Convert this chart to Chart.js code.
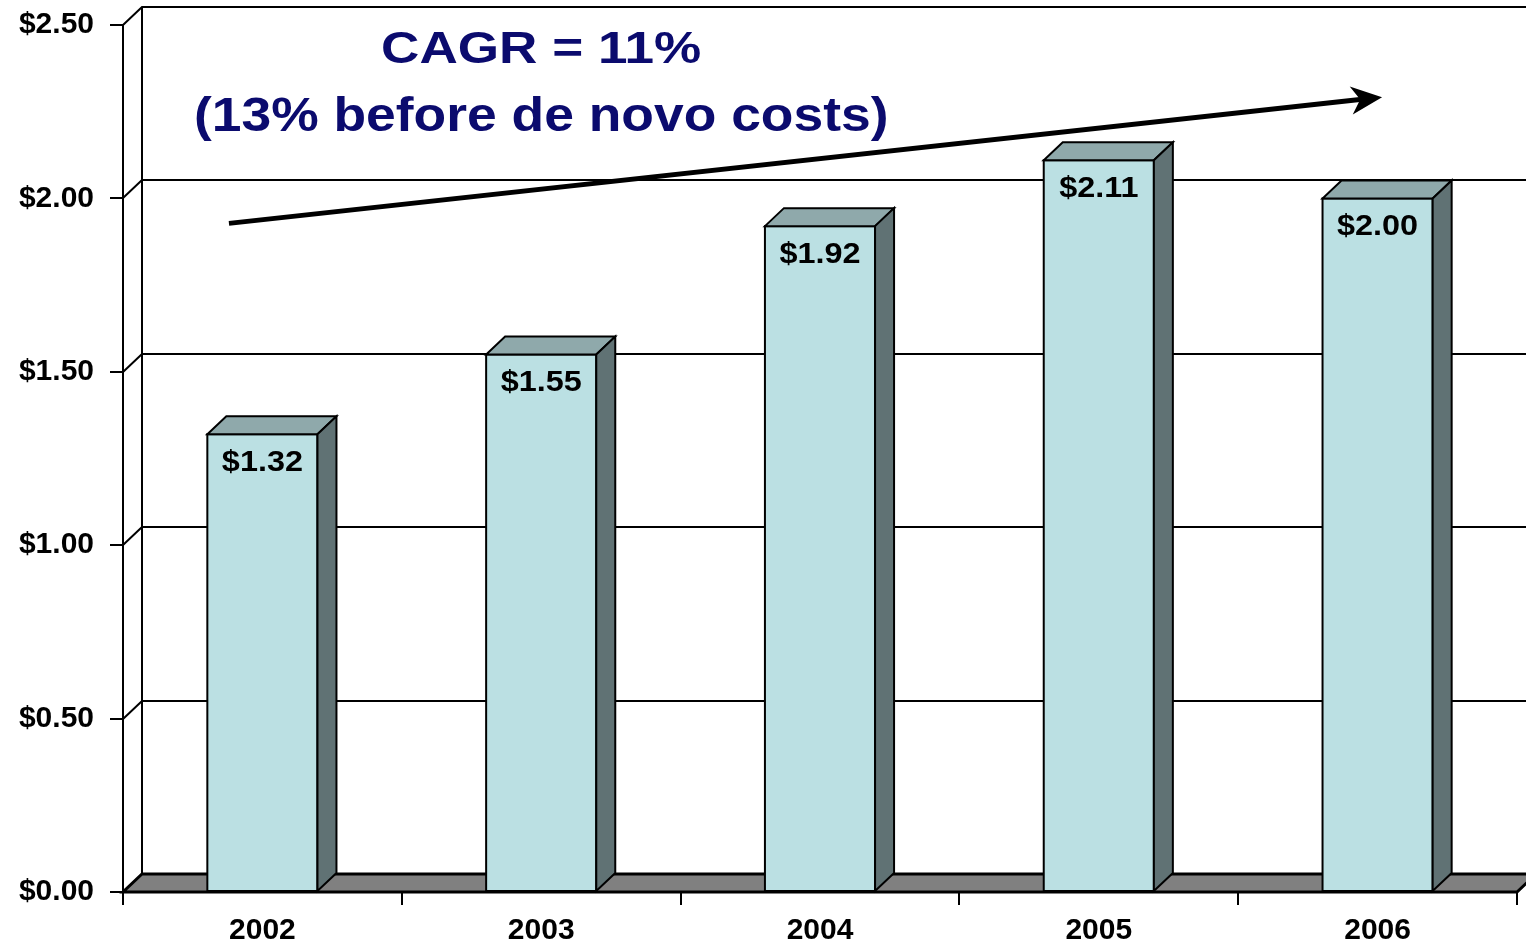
<!DOCTYPE html>
<html>
<head>
<meta charset="utf-8">
<title>EPS 2002–2006</title>
<script src="https://cdn.jsdelivr.net/npm/chart.js@4/dist/chart.umd.min.js"></script>
<style>
  html, body { margin: 0; padding: 0; background: #fff; }
  canvas { display: block; }
</style>
</head>
<body>
<canvas id="chart" width="1526" height="944"></canvas>
<script>
// Categories and values
const years = ['2002', '2003', '2004', '2005', '2006'];
const eps = [1.32, 1.55, 1.92, 2.11, 2.00];

// Value axis range
const axisMin = 0;
const axisMax = 2.5;
const axisStep = 0.5;

// Headline text and trend arrow (arrow ends given as [category index, value])
const titleLines = ['CAGR = 11%', '(13% before de novo costs)'];
const titleAnchor = [1.0, 2.390, 2.194];   // x index, baseline value of line 1, line 2
const arrowFrom = [-0.12, 1.928];
const arrowTo = [4.016, 2.292];

const FONT = "'Liberation Sans', Arial, Helvetica, sans-serif";
const DX = 19, DY = 18;            // depth offset of the 3D box
const FRONT = '#BBE0E3', TOP = '#8FA9AB', SIDE = '#607274', FLOOR = '#808080';
const NAVY = '#0B0B6E';
const TITLE_STYLE = [{ size: 45, stretch: 1.18 }, { size: 49, stretch: 1.09 }];

const depthPlugin = {
  id: 'depth3d',
  beforeDraw(chart) {
    const { ctx, chartArea: a, scales: { x, y } } = chart;
    ctx.save();
    ctx.fillStyle = '#fff';
    ctx.fillRect(0, 0, chart.width, chart.height);
    ctx.strokeStyle = '#000';
    ctx.lineWidth = 2;
    ctx.beginPath();
    // gridlines: diagonal on the side wall, then across the back wall
    y.ticks.forEach(t => {
      if (t.value === axisMin) return;
      const py = Math.round(y.getPixelForValue(t.value));
      ctx.moveTo(a.left, py);
      ctx.lineTo(a.left + DX, py - DY);
      ctx.lineTo(a.right + DX, py - DY);
    });
    // back corner of the walls
    const topY = Math.round(y.getPixelForValue(axisMax));
    ctx.moveTo(a.left + DX, topY - DY);
    ctx.lineTo(a.left + DX, a.bottom - DY);
    ctx.stroke();
    // floor
    ctx.beginPath();
    ctx.moveTo(a.left, a.bottom);
    ctx.lineTo(a.right, a.bottom);
    ctx.lineTo(a.right + DX, a.bottom - DY);
    ctx.lineTo(a.left + DX, a.bottom - DY);
    ctx.closePath();
    ctx.fillStyle = FLOOR;
    ctx.fill();
    ctx.lineWidth = 3;
    ctx.stroke();
    ctx.restore();
  },
  afterDatasetsDraw(chart) {
    const { ctx } = chart;
    const meta = chart.getDatasetMeta(0);
    ctx.save();
    ctx.strokeStyle = '#000';
    ctx.lineWidth = 2;
    ctx.lineJoin = 'miter';
    meta.data.forEach((bar, i) => {
      const { x, y, base, width } = bar.getProps(['x', 'y', 'base', 'width'], true);
      const l = x - width / 2, r = x + width / 2;
      // front outline
      ctx.strokeRect(l, y, width, base - y);
      // top face
      ctx.beginPath();
      ctx.moveTo(l, y);
      ctx.lineTo(r, y);
      ctx.lineTo(r + DX, y - DY);
      ctx.lineTo(l + DX, y - DY);
      ctx.closePath();
      ctx.fillStyle = TOP;
      ctx.fill();
      ctx.stroke();
      // side face
      ctx.beginPath();
      ctx.moveTo(r, y);
      ctx.lineTo(r + DX, y - DY);
      ctx.lineTo(r + DX, base - DY);
      ctx.lineTo(r, base);
      ctx.closePath();
      ctx.fillStyle = SIDE;
      ctx.fill();
      ctx.stroke();
      // value label inside the top of the bar
      ctx.save();
      ctx.translate(x, y + 37);
      ctx.scale(1.08, 1);
      ctx.fillStyle = '#000';
      ctx.font = 'bold 30px ' + FONT;
      ctx.textAlign = 'center';
      ctx.textBaseline = 'alphabetic';
      ctx.fillText('$' + eps[i].toFixed(2), 0, 0);
      ctx.restore();
    });
    ctx.restore();
  },
  afterDraw(chart) {
    const { ctx, scales: { x, y } } = chart;
    ctx.save();
    // headline
    ctx.fillStyle = NAVY;
    ctx.textAlign = 'center';
    ctx.textBaseline = 'alphabetic';
    const cx = x.getPixelForValue(titleAnchor[0]);
    titleLines.forEach((line, k) => {
      ctx.save();
      ctx.font = 'bold ' + TITLE_STYLE[k].size + 'px ' + FONT;
      ctx.translate(cx, y.getPixelForValue(titleAnchor[k + 1]));
      ctx.scale(TITLE_STYLE[k].stretch, 1);
      ctx.fillText(line, 0, 0);
      ctx.restore();
    });
    // trend arrow
    const x0 = x.getPixelForValue(arrowFrom[0]), y0 = y.getPixelForValue(arrowFrom[1]);
    const x1 = x.getPixelForValue(arrowTo[0]), y1 = y.getPixelForValue(arrowTo[1]);
    const ang = Math.atan2(y1 - y0, x1 - x0);
    ctx.translate(x1, y1);
    ctx.rotate(ang);
    const len = Math.hypot(x1 - x0, y1 - y0);
    ctx.strokeStyle = '#000';
    ctx.lineWidth = 5;
    ctx.beginPath();
    ctx.moveTo(-len, 0);
    ctx.lineTo(-20, 0);
    ctx.stroke();
    ctx.fillStyle = '#000';
    ctx.beginPath();
    ctx.moveTo(0, 0);
    ctx.lineTo(-31, -14);
    ctx.lineTo(-22, 0);
    ctx.lineTo(-31, 14);
    ctx.closePath();
    ctx.fill();
    ctx.restore();
  }
};

new Chart(document.getElementById('chart'), {
  type: 'bar',
  data: {
    labels: years,
    datasets: [{
      data: eps,
      backgroundColor: FRONT,
      borderColor: '#000',
      borderWidth: 0,
      categoryPercentage: 1,
      barPercentage: 0.395
    }]
  },
  options: {
    responsive: false,
    animation: false,
    devicePixelRatio: 1,
    layout: { padding: { top: 25, right: 9, left: 0, bottom: 0 } },
    plugins: {
      legend: { display: false },
      tooltip: { enabled: false },
      title: { display: false }
    },
    scales: {
      x: {
        afterFit: s => { s.height = 52; },
        grid: { drawOnChartArea: false, drawTicks: true, tickLength: 13, color: '#000', lineWidth: 2, offset: true },
        border: { display: true, color: '#000', width: 2 },
        ticks: { color: '#000', padding: 8, font: { family: FONT, size: 30, weight: 'bold' } }
      },
      y: {
        min: axisMin,
        max: axisMax,
        afterFit: s => { s.width = 123; s.paddingTop = 0; s.paddingBottom = 0; },
        grid: { drawOnChartArea: false, drawTicks: true, tickLength: 13, color: '#000', lineWidth: 2 },
        border: { display: true, color: '#000', width: 2 },
        ticks: {
          stepSize: axisStep,
          color: '#000',
          padding: 16,
          font: { family: FONT, size: 30, weight: 'bold' },
          callback: v => '$' + Number(v).toFixed(2)
        }
      }
    }
  },
  plugins: [depthPlugin]
});
</script>
</body>
</html>
